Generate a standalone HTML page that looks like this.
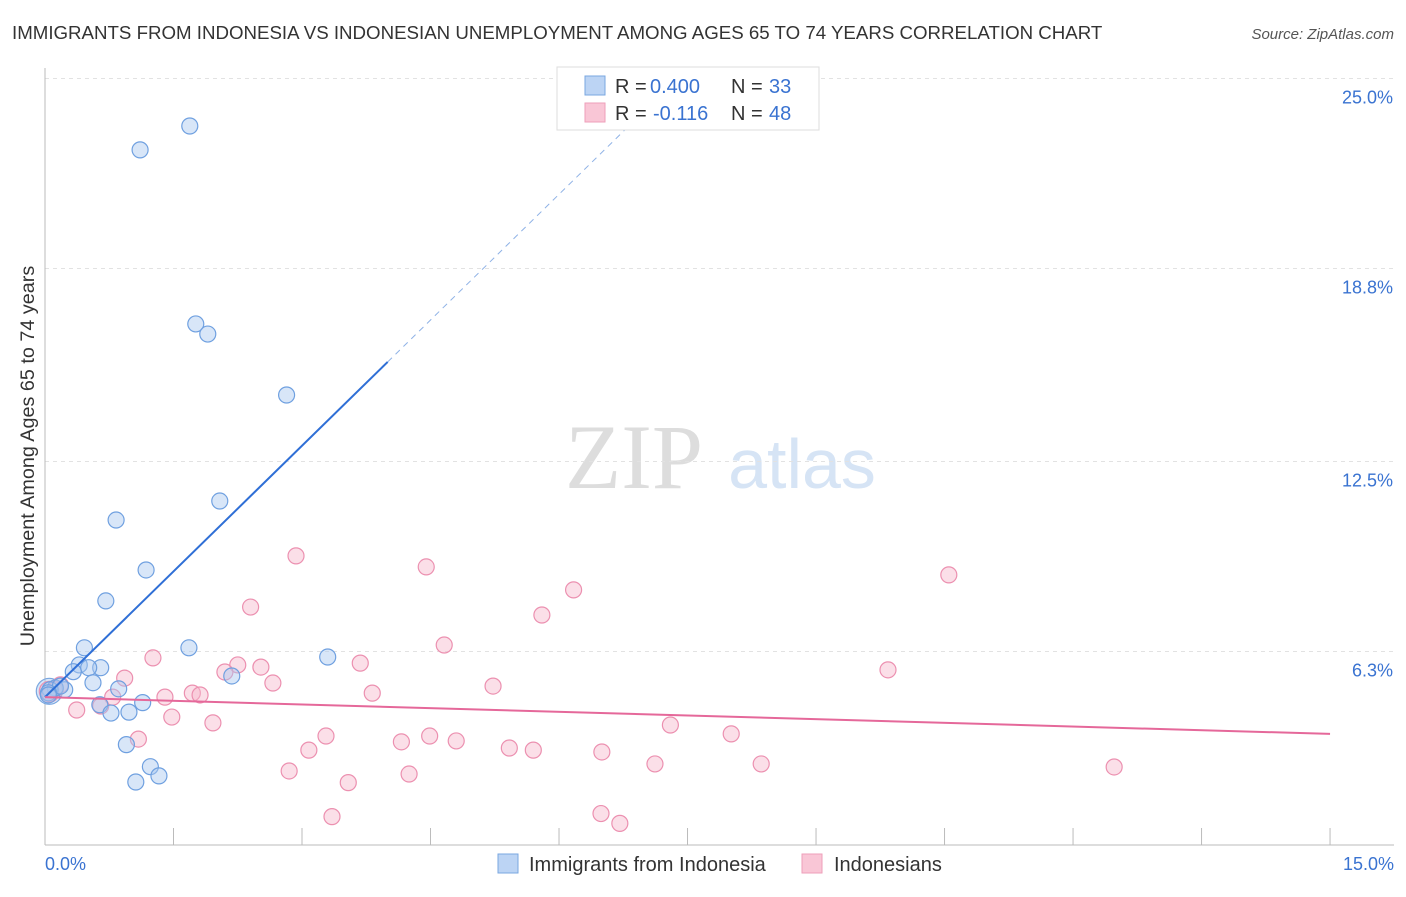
<!DOCTYPE html>
<html><head><meta charset="utf-8"><style>
body{margin:0;background:#fff;font-family:"Liberation Sans",sans-serif}
</style></head><body>
<svg id="chart" width="1406" height="892" xmlns="http://www.w3.org/2000/svg" font-family="Liberation Sans, sans-serif">
<text x="12" y="39" font-size="18.7" fill="#333">IMMIGRANTS FROM INDONESIA VS INDONESIAN UNEMPLOYMENT AMONG AGES 65 TO 74 YEARS CORRELATION CHART</text>
<text x="1394" y="39" font-size="15" fill="#555" text-anchor="end" font-style="italic">Source: ZipAtlas.com</text>
<g>
<text x="634" y="488" font-size="92" fill="#ddd" text-anchor="middle" font-family="Liberation Serif, serif">ZIP</text>
<text x="802" y="488" font-size="70" fill="#d6e4f5" text-anchor="middle">atlas</text>
</g>
<g id="grid"></g>
<g id="axes"></g>
<g id="marks"></g>
<text transform="translate(34,456) rotate(-90)" font-size="19.8" fill="#333" text-anchor="middle">Unemployment Among Ages 65 to 74 years</text>
<g>
<rect x="557" y="67" width="262" height="63" fill="#fff" stroke="#ddd"/>
<rect x="585" y="76" width="20" height="19" fill="#bcd4f4" stroke="#7aa7e0"/>
<rect x="585" y="103" width="20" height="19" fill="#f9c6d6" stroke="#ee9fba"/>
<text x="615" y="93" font-size="20" fill="#333">R =</text>
<text x="650" y="93" font-size="20" fill="#3a73d1">0.400</text>
<text x="731" y="93" font-size="20" fill="#333">N =</text>
<text x="769" y="93" font-size="20" fill="#3a73d1">33</text>
<text x="615" y="120" font-size="20" fill="#333">R =</text>
<text x="653" y="120" font-size="20" fill="#3a73d1">-0.116</text>
<text x="731" y="120" font-size="20" fill="#333">N =</text>
<text x="769" y="120" font-size="20" fill="#3a73d1">48</text>
</g>
<g>
<rect x="498" y="854" width="20" height="19" fill="#bcd4f4" stroke="#7aa7e0"/>
<text x="529" y="871" font-size="20" fill="#333">Immigrants from Indonesia</text>
<rect x="802" y="854" width="20" height="19" fill="#f9c6d6" stroke="#ee9fba"/>
<text x="834" y="871" font-size="20" fill="#333">Indonesians</text>
</g>
</svg>
<script>
const yTicks=[25,18.8,12.5,6.3];
const yTickLabels=["25.0%","18.8%","12.5%","6.3%"];
const xTickLabels=["0.0%","15.0%"];
const blueX=[1.69,1.11,1.76,1.90,2.82,2.04,0.83,1.18,0.71,0.46,1.68,3.30,0.40,0.65,0.51,0.33,0.56,0.86,0.23,0.12,0.06,0.18,0.04,0.64,1.14,0.77,0.98,2.18,0.95,1.23,1.33,1.06,0.04];
const blueY=[23.45,22.67,16.99,16.66,14.67,11.21,10.59,8.96,7.95,6.42,6.42,6.12,5.86,5.77,5.77,5.64,5.28,5.08,5.05,5.11,5.05,5.17,4.95,4.56,4.63,4.29,4.32,5.50,3.26,2.54,2.24,2.04,4.88];
const pinkX=[2.93,4.45,10.55,6.17,2.40,5.80,4.66,1.26,3.68,2.25,2.52,9.84,2.10,0.93,2.66,5.23,3.82,1.72,1.81,1.40,0.79,0.65,0.37,1.48,1.96,7.30,8.01,3.28,1.09,4.49,4.80,4.16,3.08,5.42,5.70,6.50,7.12,8.36,2.85,4.25,12.48,3.54,3.35,6.49,6.71,0.18,0.12,0.06];
const pinkY=[9.42,9.06,8.80,8.31,7.75,7.49,6.51,6.09,5.92,5.86,5.79,5.70,5.63,5.43,5.27,5.17,4.94,4.94,4.88,4.81,4.81,4.52,4.39,4.16,3.97,3.90,3.61,3.54,3.44,3.54,3.38,3.35,3.08,3.15,3.08,3.02,2.63,2.63,2.40,2.30,2.53,2.02,0.91,1.01,0.69,5.21,5.05,4.91];
const blueTrend=[4.81,2.735];
const pinkTrend=[4.81,-0.08];
const NS="http://www.w3.org/2000/svg";
const sx=v=>45+v*85.67, sy=v=>844.5-v*30.64;
function mk(t,a,p){const e=document.createElementNS(NS,t);for(const k in a)e.setAttribute(k,a[k]);p.appendChild(e);return e;}
const grid=document.getElementById('grid'),axes=document.getElementById('axes'),marks=document.getElementById('marks');
yTicks.forEach((v,i)=>{
 const l=mk('line',{x1:45,x2:1394,y1:sy(v),y2:sy(v),stroke:'#e2e2e2','stroke-dasharray':'4,4'},grid);
 
 
 const t=mk('text',{x:1393,y:sy(v)+25,'font-size':18,fill:'#3a73d1','text-anchor':'end'},axes);
 t.textContent=yTickLabels[i];
 
 
});
let ax=mk('line',{x1:45,x2:45,y1:68,y2:845,stroke:'#bbb'},axes);


ax=mk('line',{x1:45,x2:1394,y1:845,y2:845,stroke:'#bbb'},axes);


for(let i=0;i<=10;i++){const x=sx(i*1.5);
 const tk=mk('line',{x1:x,x2:x,y1:828,y2:845,stroke:'#bbb'},axes);
 
 }
[[0,'start',45],[15,'end',1394]].forEach((d,i)=>{
 const t=mk('text',{x:d[2],y:870,'font-size':18,fill:'#3a73d1','text-anchor':d[1]},axes);
 t.textContent=xTickLabels[i];
 
 });
function dot(x,y,r,f,s,name){const c=mk('circle',{cx:sx(x),cy:sy(y),r:r,fill:f,stroke:s,'stroke-width':1.2},marks);
 
 }
dot(0.05,5.0,13,'rgba(168,200,240,0.45)','#7aa7e0','blue-big-point');
dot(0.05,5.0,10,'rgba(246,184,204,0.45)','#ec90b0','pink-big-point');
pinkX.forEach((x,i)=>dot(x,pinkY[i],8,'rgba(246,184,204,0.45)','#ec90b0','pink-point'));
blueX.forEach((x,i)=>dot(x,blueY[i],8,'rgba(168,200,240,0.45)','#6fa0e0','blue-point'));
const bf=x=>blueTrend[0]+blueTrend[1]*x, pf=x=>pinkTrend[0]+pinkTrend[1]*x;
let tl=mk('line',{x1:sx(0),y1:sy(bf(0)),x2:sx(4),y2:sy(bf(4)),stroke:'#2f6fd6','stroke-width':2},marks);


tl=mk('line',{x1:sx(4),y1:sy(bf(4)),x2:sx(6.95),y2:sy(bf(6.95)),stroke:'#8fb2e6','stroke-width':1,'stroke-dasharray':'6,5'},marks);


tl=mk('line',{x1:sx(0),y1:sy(pf(0)),x2:sx(15),y2:sy(pf(15)),stroke:'#e5689a','stroke-width':2},marks);


</script>
</body></html>
